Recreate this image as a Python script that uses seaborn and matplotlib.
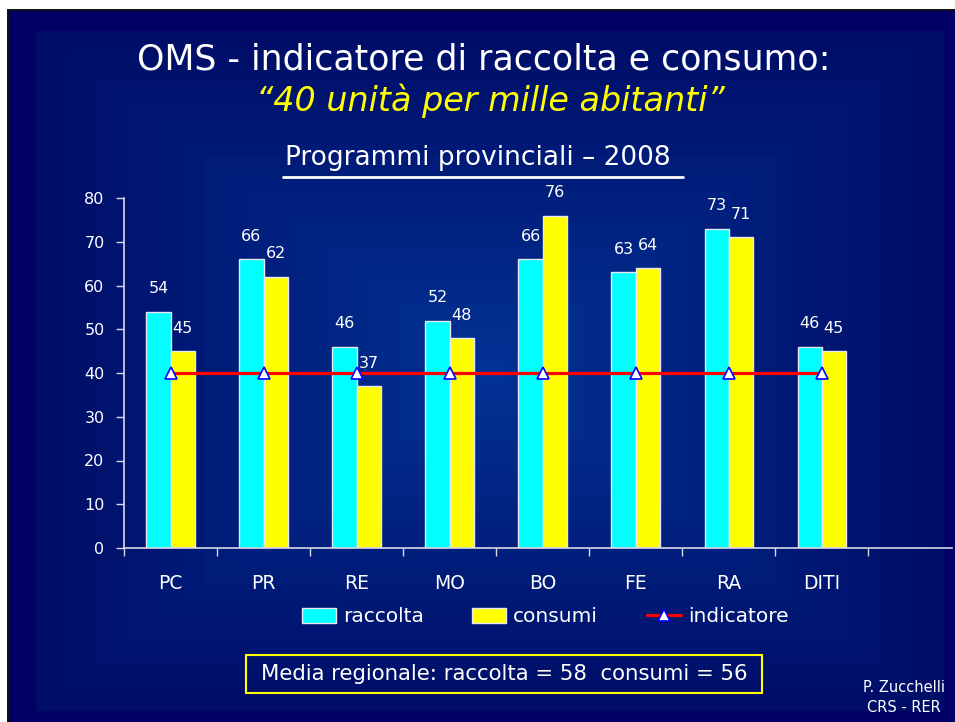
import numpy as np
import pandas as pd
import matplotlib
matplotlib.use('Agg')
import matplotlib.pyplot as plt
import seaborn as sns
from matplotlib.lines import Line2D
from matplotlib.patches import Rectangle, Patch

# Data
categories = ['PC', 'PR', 'RE', 'MO', 'BO', 'FE', 'RA', 'DITI']
raccolta = [54, 66, 46, 52, 66, 63, 73, 46]
consumi = [45, 62, 37, 48, 76, 64, 71, 45]
indicatore = [40, 40, 40, 40, 40, 40, 40, 40]
series_names = ['raccolta', 'consumi', 'indicatore']
yticks = [0, 10, 20, 30, 40, 50, 60, 70, 80]

df = pd.DataFrame({
    'prov': categories * 2,
    'valore': raccolta + consumi,
    'serie': ['raccolta'] * len(categories) + ['consumi'] * len(categories),
})

sns.set_style('white')
plt.rcParams['font.family'] = ['DejaVu Sans']

W, H = 955, 722
fig = plt.figure(figsize=(W / 100, H / 100), dpi=100, facecolor='white')

# Background slide (pixel coordinates)
bg = fig.add_axes([0, 0, 1, 1], zorder=-1)
bg.set_xlim(0, W)
bg.set_ylim(H, 0)
bg.axis('off')
bg.add_patch(Rectangle((7, 9), W - 7, H - 9, facecolor='#111111', edgecolor='none'))
bg.add_patch(Rectangle((9, 11), W - 9, H - 11, facecolor='#000066', edgecolor='none'))

# rectangular gradient, lighter in the middle
gx = np.linspace(-1, 1, 400)
gy = np.linspace(-1, 1, 300)
GX, GY = np.meshgrid(gx, gy)
d = np.maximum(np.abs(GX), np.abs(GY))
d = np.floor(d * 30) / 30
t = 1 - d
outer = np.array([0, 12, 102]) / 255
center = np.array([2, 50, 148]) / 255
img = outer[None, None, :] + (center - outer)[None, None, :] * t[:, :, None]
bg.imshow(img, extent=(36, 943, 711, 31), aspect='auto', interpolation='nearest', zorder=2)
bg.set_xlim(0, W)
bg.set_ylim(H, 0)

# Main chart axes
ax = fig.add_axes([124 / W, 1 - 548 / H, (952 - 124) / W, (548 - 198) / H])
ax.set_facecolor('none')

sns.barplot(data=df, x='prov', y='valore', hue='serie',
            palette=['#00ffff', '#ffff00'], saturation=1, width=0.52,
            edgecolor='#e8e8f0', linewidth=1, ax=ax, legend=False)

ax.plot(np.arange(len(categories)), indicatore, color='#ff0000', linewidth=2.3,
        marker='^', markersize=9, markerfacecolor='white',
        markeredgecolor='#0000ff', markeredgewidth=1.2, zorder=5)

for cont in ax.containers:
    ax.bar_label(cont, padding=11, color='white', fontsize=11.5)

ax.set_xlim(-0.5, 8.4)
ax.set_ylim(0, 80)
ax.set_yticks(yticks)
ax.set_xticks(np.arange(len(categories)))
ax.set_xticklabels(categories)
ax.set_xticks(np.arange(-0.5, len(categories), 1), minor=True)
ax.set_xlabel('')
ax.set_ylabel('')

for side in ['top', 'right']:
    ax.spines[side].set_visible(False)
for side in ['left', 'bottom']:
    ax.spines[side].set_color('#d8d8e8')
    ax.spines[side].set_linewidth(1.2)

ax.tick_params(axis='y', direction='out', length=6, width=1, color='#d8d8e8',
               labelcolor='white', labelsize=11.5, pad=8, left=True)
ax.tick_params(axis='x', which='major', length=0, labelcolor='white',
               labelsize=13.5, pad=19)
ax.tick_params(axis='x', which='minor', direction='out', length=6, width=1,
               color='#d8d8e8', bottom=True)

# Legend
handles = [
    Patch(facecolor='#00ffff', edgecolor='#e8e8f0'),
    Patch(facecolor='#ffff00', edgecolor='#e8e8f0'),
    Line2D([0], [0], color='#ff0000', linewidth=2.3, marker='^', markersize=9,
           markerfacecolor='white', markeredgecolor='#0000ff', markeredgewidth=1.2),
]
leg = ax.legend(handles, series_names, loc='center', bbox_to_anchor=(545, 617),
                bbox_transform=bg.transData, ncol=3, frameon=False,
                fontsize=14.5, handlelength=1.7, handleheight=0.75,
                handletextpad=0.35, columnspacing=2.4)
for txt in leg.get_texts():
    txt.set_color('white')

# Titles
bg.text(484, 60, 'OMS - indicatore di raccolta e consumo:', color='white',
        fontsize=25, ha='center', va='center', zorder=3)
bg.text(490, 101, '\u201c40 unit\u00e0 per mille abitanti\u201d', color='#ffff00',
        fontsize=24, style='italic', ha='center', va='center', zorder=3)
bg.text(478, 158, 'Programmi provinciali \u2013 2008', color='white',
        fontsize=19, ha='center', va='center', zorder=3)
bg.plot([283, 683], [177, 177], color='white', linewidth=2, zorder=3)

# Media regionale box
bg.add_patch(Rectangle((246, 655), 516, 38, facecolor='none', edgecolor='#ffff00',
                       linewidth=1.5, zorder=3))
bg.text(504, 674, 'Media regionale: raccolta = 58  consumi = 56', color='white',
        fontsize=15.3, ha='center', va='center', zorder=3)

# Footer
bg.text(904, 688, 'P. Zucchelli', color='white', fontsize=10.5, ha='center',
        va='center', zorder=3)
bg.text(904, 707, 'CRS - RER', color='white', fontsize=10.5, ha='center',
        va='center', zorder=3)

plt.savefig('out.png', dpi=100, facecolor=fig.get_facecolor())
